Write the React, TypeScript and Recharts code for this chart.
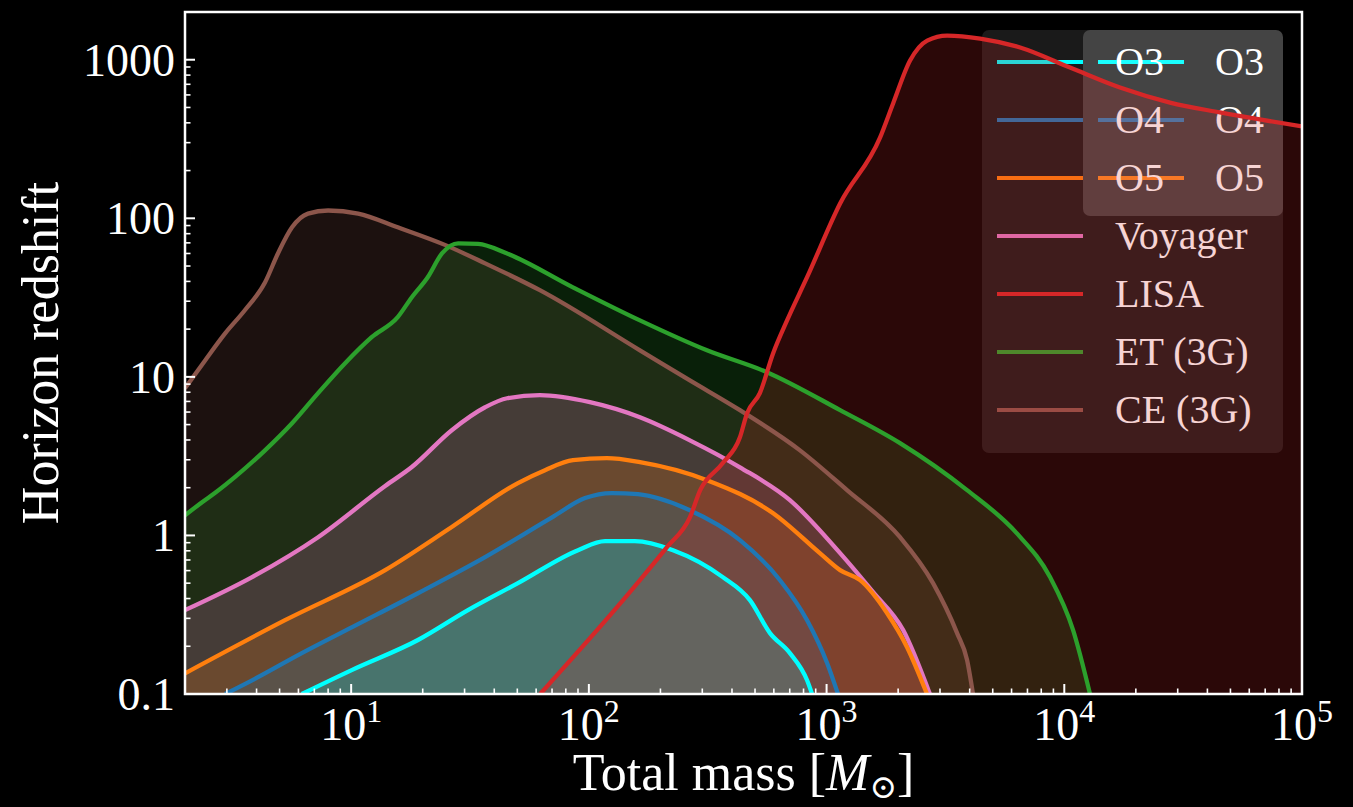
import React from 'react';
import { ComposedChart, Area, XAxis, YAxis, ReferenceArea, Label } from 'recharts';

// Horizon redshift vs. total mass for ground and space detectors.

const W = 1353;
const H = 807;
const SERIF = "'Liberation Serif', 'DejaVu Serif', serif";

const CE_MASS = [2.0, 2.43, 2.95, 3.57, 4.34, 4.92, 5.64, 6.58, 8.0, 10.7, 15.7, 24.8, 36.6, 62.2, 164, 266, 432, 773, 1219, 2037, 2805, 3540, 3900, 4130];
const CE_Z = [8.47, 12.7, 18.8, 26.3, 39.4, 60, 87.7, 107, 112, 107, 87.7, 68, 52, 35.2, 14.7, 9.5, 6.17, 3.44, 1.93, 0.975, 0.5, 0.242, 0.164, 0.1];

const ET_MASS = [2.0, 2.36, 2.67, 3.24, 4.34, 5.64, 7.26, 9.43, 12.2, 15.7, 18, 21, 24.1, 28.2, 34.2, 45.3, 85.7, 164, 314, 561, 1140, 2037, 3900, 6320, 8710, 10890, 12830];
const ET_Z = [1.34, 1.62, 1.85, 2.33, 3.44, 5.1, 7.9, 12.2, 17.8, 23.8, 31.8, 42.5, 60, 69.5, 69, 60, 36.7, 22.7, 14.7, 10.7, 6.17, 3.82, 1.93, 1.03, 0.546, 0.253, 0.1];

const VOY_MASS = [2.0, 3.83, 7.26, 13.9, 18, 26.5, 36.6, 45.3, 62.2, 101, 164, 266, 432, 701, 1140, 1567, 2100, 2720];
const VOY_Z = [0.338, 0.546, 0.975, 2.05, 2.7, 4.61, 6.43, 7.33, 7.66, 6.92, 5.56, 3.98, 2.69, 1.67, 0.773, 0.44, 0.253, 0.1];

const O5_MASS = [2.0, 5.27, 13.9, 26.5, 50.3, 65.4, 85.7, 119, 164, 314, 596, 937, 1140, 1384, 1795, 2178, 2645];
const O5_Z = [0.135, 0.292, 0.604, 1.13, 2.14, 2.58, 2.98, 3.07, 2.9, 2.23, 1.38, 0.773, 0.604, 0.522, 0.324, 0.198, 0.1];

const O4_MASS = [2.95, 3.83, 6.2, 10.1, 19.1, 36.6, 70, 96.4, 125, 161, 266, 432, 637, 828, 1005, 1117];
const O4_Z = [0.1, 0.122, 0.181, 0.264, 0.432, 0.73, 1.3, 1.72, 1.85, 1.82, 1.44, 0.933, 0.522, 0.292, 0.157, 0.1];

const O3_MASS = [6.2, 10.1, 19.1, 31, 50.3, 90, 117, 156, 226, 366, 476, 578, 701, 828, 869];
const O3_Z = [0.1, 0.142, 0.219, 0.338, 0.5, 0.807, 0.92, 0.92, 0.807, 0.546, 0.391, 0.242, 0.181, 0.122, 0.1];

const LISA_MASS = [62.4, 164, 213, 266, 294, 366, 432, 463, 524, 596, 682, 828, 1140, 1680, 1905, 2245, 2650, 3215, 4425, 6520, 10570, 17150, 27840, 45190, 100000];
const LISA_Z = [0.1, 0.522, 0.843, 1.3, 1.93, 2.86, 4.16, 5.9, 7.9, 14.1, 22.7, 42.5, 124, 324, 530, 988, 1320, 1420, 1360, 1195, 893, 668, 537, 465, 380];

const X_MAJOR = [10, 100, 1000, 10000, 100000];
const X_EXP = ['1', '2', '3', '4', '5'];
const Y_MAJOR = [0.1, 1, 10, 100, 1000];
const Y_LABELS = ['0.1', '1', '10', '100', '1000'];

const X_DOMAIN = [2, 100000];
const Y_DOMAIN = [0.1, 2000];

type Pt = { m: number; z: number };
const pair = (m: number[], z: number[]): Pt[] => m.map((v, i) => ({ m: v, z: z[i] }));

const O3 = { name: 'O3', color: '#00ffff', data: pair(O3_MASS, O3_Z) };
const O4 = { name: 'O4', color: '#1f77b4', data: pair(O4_MASS, O4_Z) };
const O5 = { name: 'O5', color: '#ff7f0e', data: pair(O5_MASS, O5_Z) };
const VOY = { name: 'Voyager', color: '#e377c2', data: pair(VOY_MASS, VOY_Z) };
const LISA = { name: 'LISA', color: '#d62728', data: pair(LISA_MASS, LISA_Z) };
const ET = { name: 'ET (3G)', color: '#2ca02c', data: pair(ET_MASS, ET_Z) };
const CE = { name: 'CE (3G)', color: '#8c564b', data: pair(CE_MASS, CE_Z) };

// back to front
const DRAW_ORDER = [CE, ET, VOY, O5, O4, O3, LISA];
const LEGEND_MAIN = [O3, O4, O5, VOY, LISA, ET, CE];
const LEGEND_RUNS = [O3, O4, O5];

// log ticks: majors plus 2..9 minors inside the domain
const X_TICKS: number[] = [];
[1, 10, 100, 1000, 10000].forEach((b) => {
  for (let d = 1; d <= 9; d++) {
    const v = d * b;
    if (v >= X_DOMAIN[0] && v <= X_DOMAIN[1]) X_TICKS.push(v);
  }
});
X_TICKS.push(100000);

const Y_TICKS: number[] = [];
Y_MAJOR.forEach((b) => {
  for (let d = 1; d <= 9; d++) {
    const v = d * b;
    if (v <= 1990) Y_TICKS.push(v);
  }
});

const STROKE = 4.3;
const LEGEND_STROKE = 4;
const MARGIN = { top: 12, right: 51, bottom: 0, left: 0 };

function XTick(props: any) {
  const { x, y, payload } = props;
  const idx = X_MAJOR.indexOf(payload.value);
  if (idx < 0) {
    return <line x1={x} x2={x} y1={y} y2={y - 5.5} stroke="#fff" strokeWidth={1.6} />;
  }
  return (
    <g>
      <line x1={x} x2={x} y1={y} y2={y - 10} stroke="#fff" strokeWidth={2} />
      <text x={x} y={y + 46} textAnchor="middle" fill="#fff" fontSize={46} fontFamily={SERIF}>
        10
        <tspan dy={-18} fontSize={32}>
          {X_EXP[idx]}
        </tspan>
      </text>
    </g>
  );
}

function YTick(props: any) {
  const { x, y, payload } = props;
  const idx = Y_MAJOR.indexOf(payload.value);
  if (idx < 0) {
    return <line x1={x} x2={x + 5.5} y1={y} y2={y} stroke="#fff" strokeWidth={1.6} />;
  }
  return (
    <g>
      <line x1={x} x2={x + 10} y1={y} y2={y} stroke="#fff" strokeWidth={2} />
      <text x={x - 10} y={y + 16} textAnchor="end" fill="#fff" fontSize={46} fontFamily={SERIF}>
        {Y_LABELS[idx]}
      </text>
    </g>
  );
}

function XTitle(props: any) {
  const vb = props.viewBox;
  return (
    <text x={vb.x + vb.width / 2} y={vb.y + 96} textAnchor="middle" fill="#fff" fontSize={52} fontFamily={SERIF}>
      Total mass [<tspan fontStyle="italic">M</tspan>
      <tspan dy={8} fontSize={33}>⊙</tspan>
      <tspan dy={-8}>]</tspan>
    </text>
  );
}

function YTitle(props: any) {
  const vb = props.viewBox;
  const cx = vb.x + 58;
  const cy = vb.y + vb.height / 2;
  return (
    <text x={cx} y={cy} transform={`rotate(-90, ${cx}, ${cy})`} textAnchor="middle" fill="#fff" fontSize={52} fontFamily={SERIF}>
      Horizon redshift
    </text>
  );
}

// legends sit underneath the plot, so the LISA band and line run over them
function Legend({ items, left, width, height, bg, lineLeft, textLeft }: any) {
  return (
    <div
      style={{
        position: 'absolute',
        left,
        top: 30,
        width,
        height,
        background: bg,
        borderRadius: 7,
      }}
    >
      {items.map((s: any, i: number) => {
        const cy = 32 + i * 58;
        return (
          <React.Fragment key={s.name}>
            <div
              style={{
                position: 'absolute',
                left: lineLeft,
                top: cy - LEGEND_STROKE / 2,
                width: 86,
                height: LEGEND_STROKE,
                background: s.color,
              }}
            />
            <div
              style={{
                position: 'absolute',
                left: textLeft,
                top: cy - 25,
                height: 50,
                lineHeight: '50px',
                fontSize: 40,
                fontFamily: SERIF,
                color: '#fff',
                whiteSpace: 'nowrap',
              }}
            >
              {s.name}
            </div>
          </React.Fragment>
        );
      })}
    </div>
  );
}

export default function App() {
  return (
    <div style={{ position: 'absolute', left: 0, top: 0, width: W, height: H, background: '#000', overflow: 'hidden' }}>
      <Legend items={LEGEND_RUNS} left={1083} width={200} height={186} bg="rgba(255,255,255,0.185)" lineLeft={15} textLeft={132} />
      <Legend items={LEGEND_MAIN} left={982} width={301} height={423} bg="rgba(255,255,255,0.1)" lineLeft={15} textLeft={133} />

      <div style={{ position: 'absolute', left: 0, top: 0 }}>
        <ComposedChart width={W} height={H} margin={MARGIN}>
          <XAxis
            dataKey="m"
            type="number"
            scale="log"
            domain={X_DOMAIN}
            allowDataOverflow
            ticks={X_TICKS}
            interval={0}
            tickSize={0}
            tickMargin={0}
            height={113}
            axisLine={false}
            tickLine={false}
            tick={(p: any) => <XTick {...p} />}
          >
            <Label content={XTitle} />
          </XAxis>
          <YAxis
            dataKey="z"
            type="number"
            scale="log"
            domain={Y_DOMAIN}
            allowDataOverflow
            ticks={Y_TICKS}
            interval={0}
            tickSize={0}
            tickMargin={0}
            width={185}
            axisLine={false}
            tickLine={false}
            tick={(p: any) => <YTick {...p} />}
          >
            <Label content={YTitle} />
          </YAxis>
          {DRAW_ORDER.map((s) => (
            <Area
              key={`fill-${s.name}`}
              data={s.data}
              dataKey="z"
              type="monotone"
              baseValue={0.1}
              fill={s.color}
              fillOpacity={0.2}
              stroke="none"
              isAnimationActive={false}
            />
          ))}
          {DRAW_ORDER.map((s) => (
            <Area
              key={`line-${s.name}`}
              data={s.data}
              dataKey="z"
              type="monotone"
              baseValue={0.1}
              fill="none"
              stroke={s.color}
              strokeWidth={STROKE}
              isAnimationActive={false}
            />
          ))}
          <ReferenceArea
            x1={X_DOMAIN[0]}
            x2={X_DOMAIN[1]}
            y1={Y_DOMAIN[0]}
            y2={Y_DOMAIN[1]}
            fill="none"
            stroke="#fff"
            strokeWidth={2.5}
            ifOverflow="visible"
          />
        </ComposedChart>
      </div>
    </div>
  );
}
